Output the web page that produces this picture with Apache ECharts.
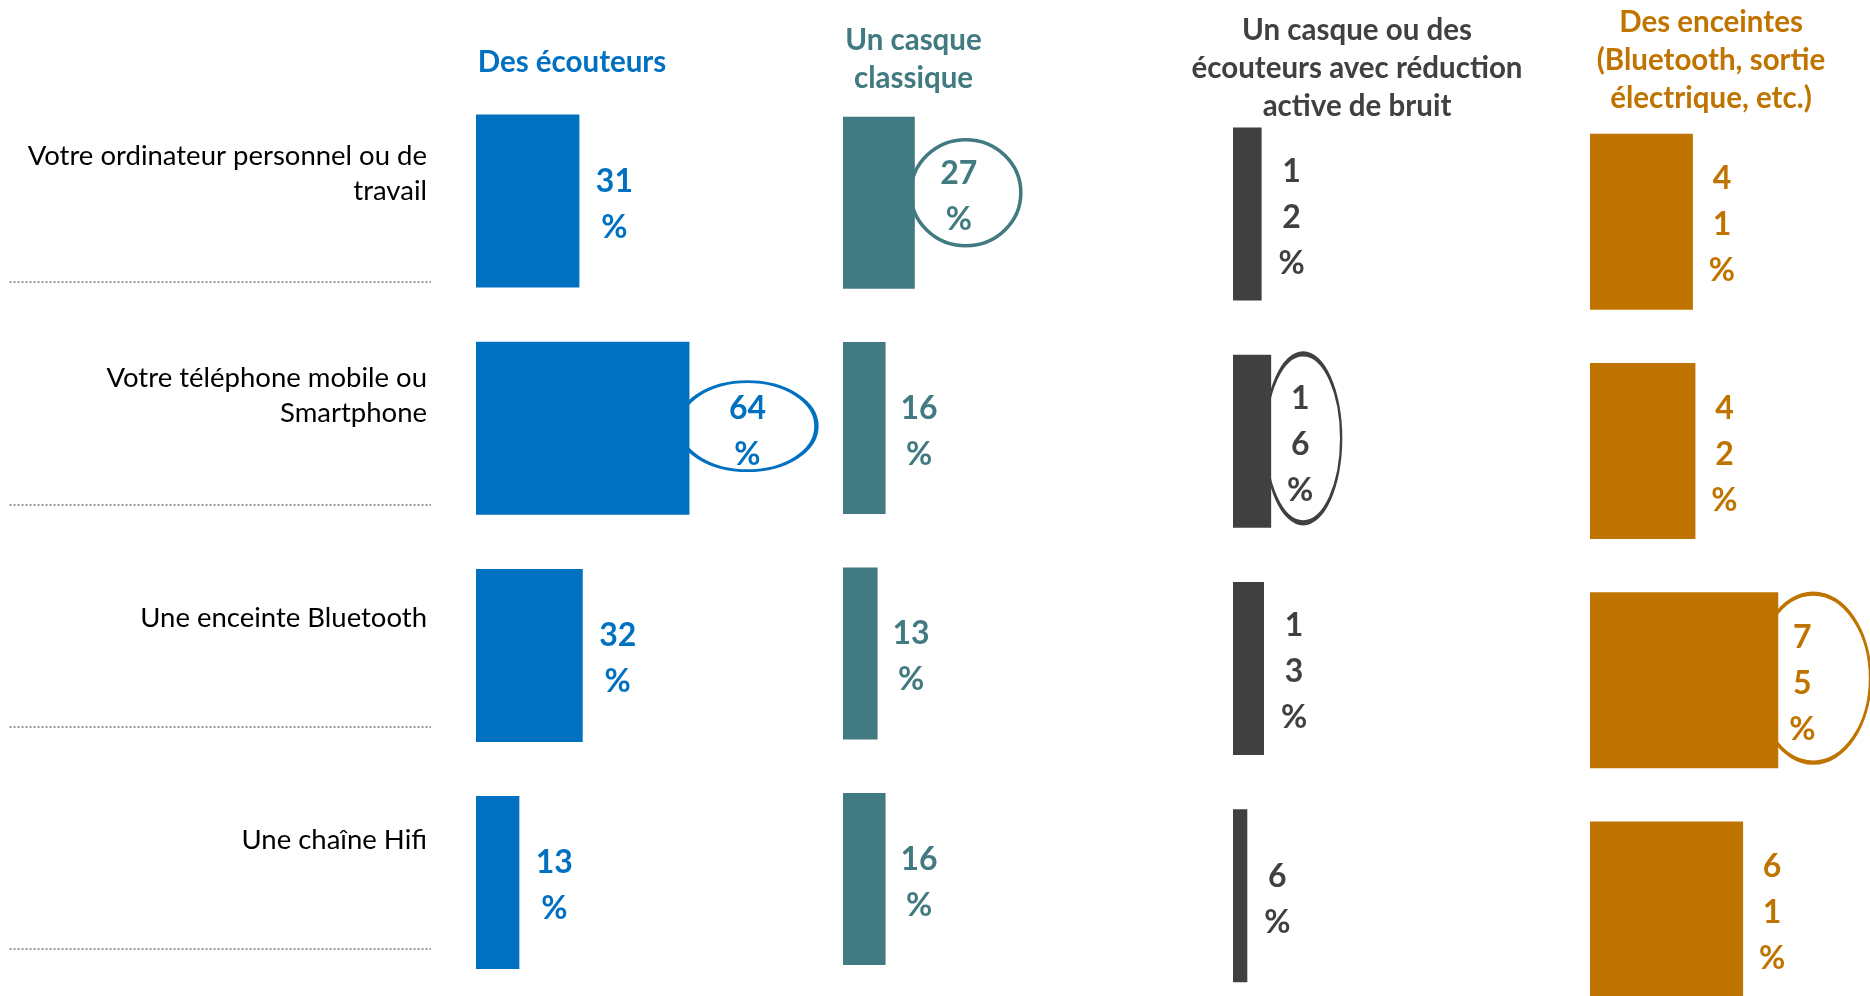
<!DOCTYPE html>
<html>
<head>
<meta charset="utf-8">
<script src="https://cdn.jsdelivr.net/npm/echarts@6/dist/echarts.min.js"></script>
<style>
  html, body { margin: 0; padding: 0; background: #fff; overflow: hidden; }
  /* taller than the window: the last row of bars runs off the bottom edge */
  #chart { width: 1870px; height: 1100px; }
</style>
</head>
<body>
<div id="chart"></div>
<script>
// rows of the survey
const categories = [
  'Votre ordinateur personnel ou de\ntravail',
  'Votre téléphone mobile ou\nSmartphone',
  'Une enceinte Bluetooth',
  'Une chaîne Hifi'
];
const titles = [
  'Des écouteurs',
  'Un casque\nclassique',
  'Un casque ou des\nécouteurs avec réduction\nactive de bruit',
  'Des enceintes\n(Bluetooth, sortie\nélectrique, etc.)'
];
const ecouteurs = [31, 64, 32, 13];
const casque = [27, 16, 13, 16];
const reduction = [12, 16, 13, 6];
const enceintes = [41, 42, 75, 61];
// row that is circled in each column
const highlight = [1, 0, 1, 2];

const values = [ecouteurs, casque, reduction, enceintes];
const colors = ['#0070C0', '#417A81', '#404040', '#C07400'];

// layout of each column (px)
const cols = [
  { left: 476, width: 333.5, top: 87.4, height: 908.8, barW: 173, dist: 35, hiDist: 58, hiDy: 0, split: false,
    tx: 572, ty: 43.5, circle: [138, 89], cOff: [58, -2] },
  { left: 843, width: 266, top: 90, height: 901.6, barW: 172, dist: 33.5, hiDist: 44, hiDy: -10, split: false,
    tx: 913.5, ty: 21.5, circle: [110, 106], cOff: [51, -10] },
  { left: 1233, width: 238.5, top: 100.5, height: 908.8, barW: 173, dist: 30, hiDist: 29, hiDy: 0, split: true,
    tx: 1357, ty: 11, circle: [76, 169], cOff: [32, -3] },
  { left: 1590, width: 251, top: 107, height: 917, barW: 176, dist: 29, hiDist: 24, hiDy: 0, split: true,
    tx: 1711, ty: 3.5, circle: [114, 169], cOff: [35, -2] }
];

const ellipse = 'path://M50,0C77.6,0 100,22.4 100,50C100,77.6 77.6,100 50,100C22.4,100 0,77.6 0,50C0,22.4 22.4,0 50,0Z';

let grid = [], xAxis = [], yAxis = [], series = [], title = [];

cols.forEach((c, i) => {
  grid.push({ left: c.left, top: c.top, width: c.width, height: c.height });
  xAxis.push({ type: 'value', gridIndex: i, min: 0, max: 100, show: false });
  yAxis.push({ type: 'category', gridIndex: i, data: categories, inverse: true, show: false });
  let data = values[i].map((v, k) => {
    if (k !== highlight[i]) return v;
    return { value: v, label: { distance: c.hiDist, offset: [0, c.hiDy + 3.5] } };
  });
  series.push({
    type: 'bar',
    xAxisIndex: i,
    yAxisIndex: i,
    barWidth: c.barW,
    z: 3,
    itemStyle: { color: colors[i] },
    label: {
      show: true,
      position: 'right',
      distance: c.dist,
      align: 'center',
      offset: [0, 3.5],
      color: colors[i],
      fontFamily: 'Lato',
      fontWeight: 'bold',
      fontSize: 32,
      lineHeight: 46,
      formatter: c.split
        ? p => String(p.value).split('').join('\n') + '\n%'
        : p => p.value + '\n%'
    },
    data: data
  });
  let h = highlight[i];
  series.push({
    type: 'scatter',
    xAxisIndex: i,
    yAxisIndex: i,
    clip: false,
    z: 1,
    silent: true,
    symbol: ellipse,
    symbolSize: c.circle,
    symbolOffset: c.cOff,
    itemStyle: { color: 'rgba(0,0,0,0)', borderColor: colors[i], borderWidth: 3.5, opacity: 1 },
    data: [[values[i][h], h]]
  });
  title.push({
    text: titles[i],
    left: c.tx,
    top: c.ty,
    textAlign: 'center',
    padding: 0,
    textStyle: {
      color: colors[i],
      fontFamily: 'Lato',
      fontWeight: 'bold',
      fontSize: 29.5,
      lineHeight: 38
    }
  });
});

// row labels with dotted separators
grid.push({ left: 9.5, top: 60, width: 421.5, height: 888.8 });
xAxis.push({ type: 'value', gridIndex: 4, min: 0, max: 1, show: false });
yAxis.push({
  type: 'category',
  gridIndex: 4,
  data: categories,
  inverse: true,
  position: 'right',
  axisLine: { show: false },
  axisTick: { show: false },
  axisLabel: {
    inside: true,
    align: 'right',
    margin: 4,
    color: '#000',
    fontFamily: 'Lato',
    fontSize: 27.5,
    lineHeight: 35,
    // nudge the text a little below the band centre
    formatter: v => '{t|' + v.split('\n').join('}\n{t|') + '}',
    rich: {
      t: { fontFamily: 'Lato', fontSize: 27.5, lineHeight: 35, color: '#000', padding: [5, 0, 0, 0] }
    }
  },
  splitLine: {
    show: true,
    showMinLine: false,
    lineStyle: { color: '#999', width: 2, type: [2, 2] }
  }
});

const chart = echarts.init(document.getElementById('chart'));
chart.setOption({
  animation: false,
  title: title,
  grid: grid,
  xAxis: xAxis,
  yAxis: yAxis,
  series: series
});
</script>
</body>
</html>
